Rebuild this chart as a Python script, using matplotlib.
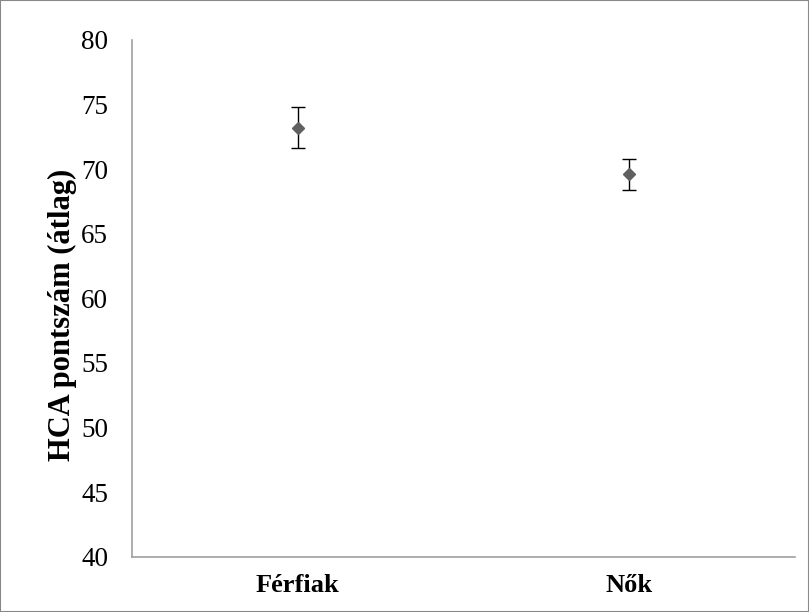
import matplotlib.pyplot as plt
from matplotlib.patches import Rectangle

categories = ['Férfiak', 'Nők']
means = [73.2, 69.6]
err_low = [1.6, 1.2]
err_high = [1.6, 1.2]
yticks = [40, 45, 50, 55, 60, 65, 70, 75, 80]

plt.rcParams['font.family'] = ['Liberation Serif', 'DejaVu Serif']

fig = plt.figure(figsize=(8.09, 6.12), dpi=100)
ax = fig.add_axes([0.163, 0.090, 0.820, 0.845])

x = list(range(len(categories)))
ax.errorbar(x, means, yerr=[err_low, err_high], fmt='D', color='#606060',
            markersize=6, ecolor='black', elinewidth=1, capsize=5, capthick=1)

ax.set_xlim(-0.5, 1.5)
ax.set_ylim(40, 80)
ax.set_yticks(yticks)
ax.set_yticklabels([str(v) for v in yticks], fontsize=19.5)
ax.set_xticks(x)
ax.set_xticklabels(categories, fontsize=19, fontweight='bold')
ax.tick_params(axis='x', length=0, pad=12)
ax.tick_params(axis='y', length=0, pad=17)
ax.set_ylabel('HCA pontszám (átlag)', fontsize=22, fontweight='bold')
ax.yaxis.set_label_coords(-0.082, 0.468)

for s in ['top', 'right']:
    ax.spines[s].set_visible(False)
for s in ['left', 'bottom']:
    ax.spines[s].set_color('#a0a0a0')
    ax.spines[s].set_linewidth(1.2)

fig.patches.append(Rectangle((0, 0), 1, 1, transform=fig.transFigure,
                             fill=False, edgecolor='#888888', linewidth=1.5))

fig.savefig('out.png', dpi=100)
